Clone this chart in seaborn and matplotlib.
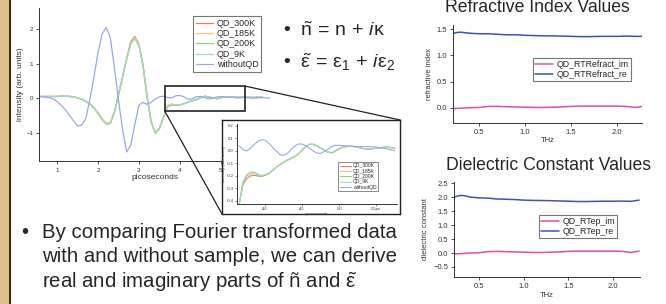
import matplotlib
matplotlib.use('Agg')
import matplotlib.pyplot as plt
from matplotlib.patches import Rectangle, ConnectionPatch
import seaborn as sns

# ---- main THz pulse (picoseconds) ----
time_ps = [0.6, 0.7, 0.8, 0.9, 1.0, 1.1, 1.2, 1.3, 1.4, 1.5,
           1.6, 1.7, 1.8, 1.9, 2.0, 2.1, 2.2, 2.3, 2.4, 2.5,
           2.6, 2.7, 2.8, 2.9, 3.0, 3.1, 3.2, 3.3, 3.4, 3.5,
           3.6, 3.7, 3.8, 3.9, 4.0, 4.1, 4.2, 4.3, 4.4, 4.5,
           4.6, 4.7, 4.8, 4.9, 5.0, 5.1, 5.2, 5.3, 5.4, 5.5,
           5.6, 5.7, 5.8, 5.9, 6.0, 6.1, 6.2]

qd_300k = [0.05, 0.05, 0.05, 0.05, 0.05, 0.06, 0.06, 0.05, 0.04, 0.01,
           -0.03, -0.09, -0.16, -0.27, -0.42, -0.6, -0.73, -0.72, -0.4, 0.1,
           0.62, 1.15, 1.63, 1.78, 1.55, 0.95, 0.05, -0.68, -1.0, -0.87,
           -0.55, -0.24, -0.2, -0.2, -0.19, -0.16, -0.11, -0.07, -0.045, 0.01,
           0.055, 0.04, 0.01, -0.015, 0.015, 0.035, 0.035, 0.025, 0.015, 0.02,
           0.03, 0.025, 0.02, 0.03, 0.03]
qd_185k = [0.05, 0.05, 0.05, 0.05, 0.05, 0.06, 0.06, 0.05, 0.04, 0.01,
           -0.03, -0.09, -0.16, -0.27, -0.42, -0.6, -0.72, -0.71, -0.4, 0.1,
           0.62, 1.14, 1.6, 1.75, 1.53, 0.94, 0.05, -0.68, -1.0, -0.86,
           -0.54, -0.23, -0.19, -0.2, -0.19, -0.16, -0.11, -0.07, -0.045, 0.01,
           0.055, 0.04, 0.01, -0.015, 0.015, 0.035, 0.035, 0.025, 0.015, 0.02,
           0.03, 0.025, 0.02, 0.03, 0.03]
qd_200k = [0.05, 0.05, 0.05, 0.05, 0.05, 0.06, 0.06, 0.05, 0.04, 0.01,
           -0.03, -0.09, -0.17, -0.28, -0.44, -0.62, -0.75, -0.73, -0.42, 0.08,
           0.6, 1.12, 1.57, 1.72, 1.52, 0.94, 0.04, -0.7, -1.02, -0.88,
           -0.54, -0.22, -0.17, -0.19, -0.19, -0.16, -0.11, -0.07, -0.045, 0.01,
           0.055, 0.04, 0.01, -0.015, 0.015, 0.035, 0.035, 0.025, 0.015, 0.02,
           0.03, 0.025, 0.02, 0.03, 0.03]
qd_9k = [0.05, 0.05, 0.05, 0.05, 0.05, 0.06, 0.06, 0.05, 0.04, 0.01,
         -0.03, -0.09, -0.17, -0.28, -0.44, -0.62, -0.75, -0.73, -0.42, 0.08,
         0.6, 1.12, 1.57, 1.72, 1.52, 0.94, 0.04, -0.7, -1.02, -0.88,
         -0.54, -0.22, -0.17, -0.19, -0.19, -0.16, -0.11, -0.07, -0.045, 0.01,
         0.055, 0.04, 0.01, -0.015, 0.015, 0.035, 0.035, 0.025, 0.015, 0.02,
         0.03, 0.025, 0.02, 0.03, 0.03]
without_qd = [0.04, 0.04, 0.02, -0.02, -0.09, -0.2, -0.33, -0.48, -0.65, -0.8,
              -0.78, -0.6, -0.05, 0.6, 1.3, 1.85, 2.04, 1.75, 0.9, -0.05,
              -0.9, -1.55, -1.35, -0.75, -0.2, -0.12, -0.18, -0.12, -0.02, 0.04,
              0.06, 0.02, 0.01, 0.07, 0.08, 0.04, -0.03, -0.02, 0.04, 0.05,
              0.02, -0.02, 0.0, 0.035, 0.045, 0.04, 0.04, 0.035, 0.035, 0.03,
              0.02, 0.01, 0.0, 0.01, 0.02, 0.01, 0.0]

# ---- zoomed tail of the pulse ----
time_zoom = [3.65, 3.70, 3.75, 3.80, 3.85, 3.90, 3.95, 4.00, 4.05, 4.10,
             4.15, 4.20, 4.25, 4.30, 4.35, 4.40, 4.45, 4.50, 4.55, 4.60,
             4.65, 4.70, 4.75, 4.80, 4.85, 4.90, 4.95, 5.00, 5.05, 5.10,
             5.15, 5.20, 5.25, 5.30, 5.35, 5.40, 5.45, 5.50, 5.55, 5.60,
             5.65, 5.70, 5.75]
zoom_tail = [-0.18, -0.155,
             -0.13, -0.11, -0.09, -0.073, -0.06, -0.045, -0.025, 0.008, 0.035, 0.053,
             0.052, 0.04, 0.022, 0.005, -0.01, -0.015, 0.0, 0.017, 0.03, 0.035,
             0.036, 0.035, 0.03, 0.022, 0.016, 0.015, 0.018, 0.021, 0.025, 0.029,
             0.03, 0.026, 0.021]
zoom_300k = [-0.42, -0.27, -0.22, -0.20, -0.195, -0.20, -0.205, -0.195] + zoom_tail
zoom_185k = [-0.42, -0.26, -0.20, -0.185, -0.18, -0.19, -0.20, -0.19] + zoom_tail
zoom_200k = [-0.43, -0.25, -0.19, -0.17, -0.17, -0.185, -0.20, -0.19] + zoom_tail
zoom_9k = [-0.43, -0.25, -0.19, -0.172, -0.172, -0.187, -0.20, -0.19] + zoom_tail
zoom_without = [0.04, 0.01, 0.0, 0.02, 0.05, 0.075, 0.09, 0.085, 0.06, 0.03,
                0.0, -0.03, -0.035, -0.02, 0.01, 0.04, 0.055, 0.055, 0.04, 0.02,
                0.0, -0.018, -0.02, -0.005, 0.015, 0.035, 0.045, 0.045, 0.042, 0.04,
                0.038, 0.036, 0.035, 0.035, 0.035, 0.035, 0.033, 0.03, 0.025, 0.02,
                0.015, 0.008, 0.0]

series_names = ['QD_300K', 'QD_185K', 'QD_200K', 'QD_9K', 'withoutQD']
series_colors = ['#ec7a5c', '#f3c46a', '#8fd46a', '#9fdcc8', '#96a8ec']

# ---- refractive index / dielectric constant (THz) ----
freq_n = [0.22, 0.25, 0.3, 0.35, 0.4, 0.5, 0.6, 0.7, 0.8, 0.9, 1.0, 1.1,
          1.2, 1.3, 1.4, 1.5, 1.6, 1.7, 1.8, 1.9, 2.0, 2.1, 2.2, 2.27]
n_re = [1.41, 1.43, 1.44, 1.43, 1.42, 1.41, 1.41, 1.40, 1.39, 1.39, 1.38, 1.375,
        1.37, 1.37, 1.365, 1.36, 1.355, 1.355, 1.36, 1.36, 1.36, 1.365, 1.36, 1.36]
n_im = [-0.01, -0.01, -0.005, 0.0, 0.005, 0.01, 0.03, 0.03, 0.025, 0.02, 0.015, 0.01,
        0.01, 0.015, 0.02, 0.03, 0.035, 0.035, 0.035, 0.035, 0.035, 0.03, 0.01, 0.03]

freq_eps = [0.22, 0.25, 0.3, 0.35, 0.4, 0.5, 0.6, 0.7, 0.8, 0.9, 1.0, 1.1,
            1.2, 1.3, 1.4, 1.5, 1.6, 1.7, 1.8, 1.9, 2.0, 2.1, 2.2, 2.29]
eps_re = [2.0, 2.04, 2.07, 2.05, 2.01, 1.98, 1.97, 1.94, 1.93, 1.92, 1.90, 1.89,
          1.885, 1.88, 1.87, 1.86, 1.85, 1.85, 1.855, 1.86, 1.86, 1.865, 1.855, 1.9]
eps_im = [-0.03, -0.03, -0.02, -0.01, 0.0, 0.01, 0.05, 0.06, 0.05, 0.04, 0.03, 0.02,
          0.02, 0.03, 0.04, 0.06, 0.07, 0.07, 0.07, 0.07, 0.07, 0.06, 0.02, 0.07]

sns.set_theme(style='ticks')
plt.rcParams['font.family'] = ['Liberation Sans', 'DejaVu Sans']
plt.rcParams['mathtext.fontset'] = 'custom'
plt.rcParams['mathtext.rm'] = 'Liberation Sans'
plt.rcParams['mathtext.it'] = 'Liberation Sans:italic'
plt.rcParams['mathtext.bf'] = 'Liberation Sans:bold'

W, H = 666, 304
fig = plt.figure(figsize=(6.66, 3.04), dpi=100)
fig.patch.set_facecolor('white')


def fbox(x0, y0, x1, y1):
    # pixel box (top-left origin) -> figure fraction rect
    return [x0 / W, 1 - y1 / H, (x1 - x0) / W, (y1 - y0) / H]


def igor_axes(a, size=4.5):
    sns.despine(ax=a)
    for s in ['left', 'bottom']:
        a.spines[s].set_linewidth(0.7)
        a.spines[s].set_color('#333333')
    a.tick_params(length=2.5, width=0.6, labelsize=size, pad=1.5, colors='#333333')
    a.set_facecolor('none')


# slide edge
fig.add_artist(Rectangle((0, 0), 9 / W, 1, transform=fig.transFigure, fc='#dcc48c', ec='none'))
fig.add_artist(Rectangle((9 / W, 0), 1.6 / W, 1, transform=fig.transFigure, fc='#3a2c12', ec='none'))

# main pulse plot
ax = fig.add_axes(fbox(39, 8, 270, 161))
main_series = [qd_300k, qd_185k, qd_200k, qd_9k, without_qd]
for name, vals, col in zip(series_names, main_series, series_colors):
    sns.lineplot(x=time_ps[:len(vals)], y=vals, color=col, lw=0.9, label=name, ax=ax)
igor_axes(ax)
ax.set_xlim(0.56, 6.2)
ax.set_ylim(-1.81, 2.6)
ax.set_xticks([1, 2, 3, 4, 5])
ax.set_yticks([-1, 0, 1, 2])
ax.tick_params(axis='x', pad=2.5)
ax.set_xlabel('picoseconds', fontsize=6, labelpad=0.5, color='#333333')
ax.set_ylabel('intensity (arb. units)', fontsize=6, labelpad=2, color='#333333')
leg = ax.legend(loc='upper left', bbox_to_anchor=(193 / W, 1 - 16 / H), bbox_transform=fig.transFigure,
                fontsize=6.4, frameon=True, fancybox=False, edgecolor='#555555', handlelength=1.9,
                handletextpad=0.45, borderpad=0.3, labelspacing=0.15, borderaxespad=0)
leg.get_frame().set_linewidth(0.8)

ax.add_patch(Rectangle((3.63, -0.37), 1.96, 0.72, fill=False, ec='#222222', lw=1.2, zorder=5))

# inset frame and zoomed plot
frame = fig.add_axes(fbox(222, 120, 400, 214))
frame.set_xticks([])
frame.set_yticks([])
frame.set_facecolor('white')
for s in frame.spines.values():
    s.set_visible(True)
    s.set_linewidth(1.0)
    s.set_color('#222222')

for xy_main, xy_frame in [((5.59, 0.35), (1.0, 1.0)), ((3.63, -0.37), (0.0, 0.0))]:
    con = ConnectionPatch(xyA=xy_main, coordsA=ax.transData, xyB=xy_frame, coordsB=frame.transAxes,
                          color='#222222', lw=0.9)
    fig.add_artist(con)

ins = fig.add_axes(fbox(237, 124, 397, 204))
zoom_series = [zoom_300k, zoom_185k, zoom_200k, zoom_9k, zoom_without]
for name, vals, col in zip(series_names, zoom_series, series_colors):
    sns.lineplot(x=time_zoom, y=vals, color=col, lw=0.8, label=name, ax=ins)
igor_axes(ins, size=3)
ins.tick_params(length=1.5, width=0.4, pad=1)
ins.set_xlim(3.62, 5.78)
ins.set_ylim(-0.424, 0.215)
ins.set_xticks([4.0, 4.5, 5.0, 5.5])
ins.set_xticklabels(['4.0', '4.5', '5.0', '5.5ps'])
ins.set_yticks([-0.4, -0.3, -0.2, -0.1, 0.0, 0.1, 0.2])
ins.set_yticklabels(['-0.4', '-0.3', '-0.2', '-0.1', '0.0', '0.1', '0.2'])
ins.set_xlabel('picoseconds', fontsize=3, labelpad=0.3, color='#333333')
ins.set_ylabel('intensity (arb. units)', fontsize=3, labelpad=0.5, color='#333333')
ileg = ins.legend(loc='upper left', bbox_to_anchor=(338 / W, 1 - 162 / H), bbox_transform=fig.transFigure,
                  fontsize=3.6, frameon=True, fancybox=False, edgecolor='#555555', handlelength=2.2,
                  handletextpad=0.5, borderpad=0.3, labelspacing=0.05, borderaxespad=0)
ileg.get_frame().set_linewidth(0.6)

# refractive index plot
axn = fig.add_axes(fbox(453, 25, 642, 123))
sns.lineplot(x=freq_n, y=n_im, color='#e04aa8', lw=1.1, label='QD_RTRefract_im', ax=axn)
sns.lineplot(x=freq_n, y=n_re, color='#3a55b4', lw=1.1, label='QD_RTRefract_re', ax=axn)
igor_axes(axn, size=5.5)
axn.set_xlim(0.22, 2.27)
axn.set_ylim(-0.285, 1.576)
axn.set_xticks([0.5, 1.0, 1.5, 2.0])
axn.set_yticks([0.0, 0.5, 1.0, 1.5])
axn.set_xlabel('THz', fontsize=5.5, labelpad=1, color='#333333')
axn.set_ylabel('refractive index', fontsize=5.5, labelpad=3, color='#333333')
nleg = axn.legend(loc='upper left', bbox_to_anchor=(533 / W, 1 - 58 / H), bbox_transform=fig.transFigure,
                  fontsize=6.3, frameon=True, fancybox=False, edgecolor='#555555', handlelength=2.0,
                  handletextpad=0.4, borderpad=0.25, labelspacing=0.1, borderaxespad=0)
nleg.get_frame().set_linewidth(0.8)
fig.text(537 / W, 1 - 8 / H, 'Refractive Index Values', ha='center', va='center', fontsize=12.7)

# dielectric constant plot
axe = fig.add_axes(fbox(454, 182, 640, 277))
sns.lineplot(x=freq_eps, y=eps_im, color='#e04aa8', lw=1.1, label='QD_RTep_im', ax=axe)
sns.lineplot(x=freq_eps, y=eps_re, color='#3a55b4', lw=1.1, label='QD_RTep_re', ax=axe)
igor_axes(axe, size=5.5)
axe.set_xlim(0.22, 2.30)
axe.set_ylim(-0.86, 2.55)
axe.set_xticks([0.5, 1.0, 1.5, 2.0])
axe.set_yticks([-0.5, 0.0, 0.5, 1.0, 1.5, 2.0, 2.5])
axe.set_xlabel('THz', fontsize=5.5, labelpad=2, color='#333333')
axe.set_ylabel('dielectric constant', fontsize=5.5, labelpad=3, color='#333333')
eleg = axe.legend(loc='upper left', bbox_to_anchor=(539 / W, 1 - 215 / H), bbox_transform=fig.transFigure,
                  fontsize=6.3, frameon=True, fancybox=False, edgecolor='#555555', handlelength=2.0,
                  handletextpad=0.4, borderpad=0.25, labelspacing=0.1, borderaxespad=0)
eleg.get_frame().set_linewidth(0.8)
fig.text(548 / W, 1 - 165 / H, 'Dielectric Constant Values', ha='center', va='center', fontsize=12.7)

# slide text
fig.text(283 / W, 1 - 31 / H, r'•  $\tilde{\mathrm{n}}\,=\,\mathrm{n}\,+\,i\mathrm{\kappa}$',
         fontsize=14, va='center')
fig.text(283 / W, 1 - 62 / H,
         r'•  $\tilde{\mathrm{\varepsilon}}\,=\,\mathrm{\varepsilon}_1\,+\,i\mathrm{\varepsilon}_2$',
         fontsize=14, va='center')

body = ['By comparing Fourier transformed data',
        'with and without sample, we can derive',
        r'real and imaginary parts of ñ and $\tilde{\mathrm{\varepsilon}}$']
fig.text(21 / W, 1 - 232 / H, '•', fontsize=14.7, va='center')
for i, line in enumerate(body):
    fig.text(42 / W, 1 - (232 + 25 * i) / H, line, fontsize=14.7, va='center')

fig.savefig('out.png', dpi=100)
